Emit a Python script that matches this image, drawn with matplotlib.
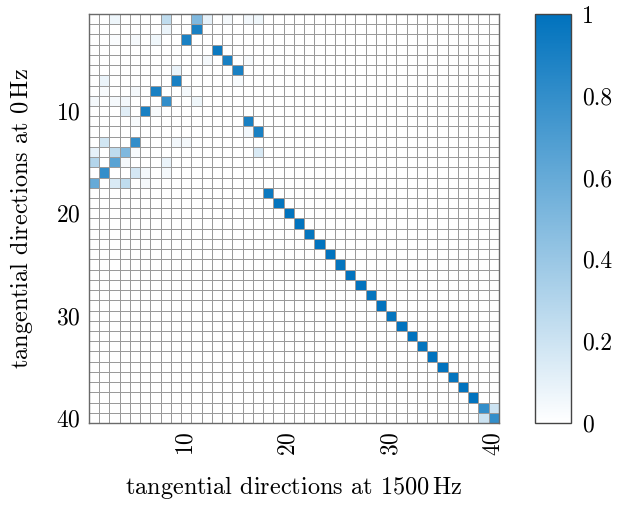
import numpy as np
import matplotlib
matplotlib.use('Agg')
import matplotlib.pyplot as plt
from matplotlib.colors import LinearSegmentedColormap

plt.rcParams['font.family'] = ['cmr10', 'DejaVu Serif']
plt.rcParams['mathtext.fontset'] = 'cm'
plt.rcParams['axes.formatter.use_mathtext'] = True

n_dirs = 40

# sparse entries of the correlation matrix (row, column, value), 1-based
rows = [1, 1, 1, 1, 1, 1, 1,
        2, 2,
        3, 3, 3, 3,
        4,
        5, 5, 5,
        6, 6,
        7, 7, 7,
        8, 8, 8, 8,
        9, 9, 9, 9, 9,
        10, 10, 10,
        11, 11,
        12, 12,
        13, 13, 13, 13,
        14, 14, 14, 14, 14,
        15, 15, 15, 15,
        16, 16, 16, 16,
        17, 17, 17, 17,
        18]
cols = [3, 8, 11, 12, 14, 16, 17,
        11, 8,
        10, 5, 7, 3,
        13,
        14, 12, 16,
        15, 9,
        9, 2, 15,
        7, 5, 10, 2,
        8, 1, 3, 4, 11,
        6, 4, 7,
        16, 5,
        17, 16,
        5, 2, 9, 10,
        1, 3, 4, 17, 5,
        1, 3, 8, 4,
        2, 5, 6, 8,
        1, 3, 4, 6,
        18]
vals = [0.07, 0.25, 0.50, 0.10, 0.04, 0.05, 0.06,
        0.90, 0.08,
        0.90, 0.04, 0.06, 0.02,
        0.95,
        0.90, 0.04, 0.03,
        0.90, 0.08,
        0.90, 0.08, 0.03,
        0.90, 0.04, 0.04, 0.03,
        0.80, 0.04, 0.04, 0.05, 0.06,
        0.90, 0.12, 0.03,
        0.90, 0.03,
        0.90, 0.05,
        0.80, 0.18, 0.05, 0.04,
        0.10, 0.25, 0.50, 0.15, 0.03,
        0.30, 0.65, 0.08, 0.04,
        0.80, 0.17, 0.04, 0.04,
        0.60, 0.15, 0.25, 0.04,
        0.95]

# directions 19..38 map one to one
diag_idx = [19, 20, 21, 22, 23, 24, 25, 26, 27, 28,
            29, 30, 31, 32, 33, 34, 35, 36, 37, 38]
diag_vals = [0.98, 0.99, 0.99, 0.98, 0.99, 0.99, 0.98, 0.99, 0.99, 0.98,
             0.99, 0.98, 0.99, 0.99, 0.98, 0.99, 0.99, 0.98, 0.99, 0.99]

# last two directions mix
block_rows = [39, 39, 40, 40]
block_cols = [39, 40, 39, 40]
block_vals = [0.80, 0.20, 0.20, 0.80]

M = np.zeros((n_dirs, n_dirs))
for r, c, v in zip(rows, cols, vals):
    M[r - 1, c - 1] = v
for i, v in zip(diag_idx, diag_vals):
    M[i - 1, i - 1] = v
for r, c, v in zip(block_rows, block_cols, block_vals):
    M[r - 1, c - 1] = v

cmap = LinearSegmentedColormap.from_list('wb', ['#ffffff', '#0072bd'])

fig = plt.figure(figsize=(6.17, 5.05), dpi=100)
ax = fig.add_axes([0.1442, 0.1624, 0.6645, 0.8099])
cax = fig.add_axes([0.867, 0.1624, 0.058, 0.8099])

edges = np.arange(0.5, n_dirs + 1.0, 1.0)
mesh = ax.pcolormesh(edges, edges, M, cmap=cmap, vmin=0, vmax=1,
                     edgecolor='#9a9a9a', linewidth=0.6)
ax.set_xlim(0.5, n_dirs + 0.5)
ax.set_ylim(n_dirs + 0.5, 0.5)
ax.set_xticks([10, 20, 30, 40])
ax.set_yticks([10, 20, 30, 40])
ax.tick_params(axis='x', labelrotation=90, length=0, labelsize=17, pad=6)
ax.tick_params(axis='y', length=0, labelsize=17, pad=6)
for s in ax.spines.values():
    s.set_color('#6a6a6a')
    s.set_linewidth(1.0)
ax.set_xlabel(r'tangential directions at 1500$\,$Hz', fontsize=17.5, labelpad=13)
ax.set_ylabel(r'tangential directions at 0$\,$Hz', fontsize=17.5, labelpad=15)

cb = fig.colorbar(mesh, cax=cax, ticks=[0, 0.2, 0.4, 0.6, 0.8, 1])
cb.ax.set_yticklabels(['0', '0.2', '0.4', '0.6', '0.8', '1'])
cb.ax.tick_params(length=0, labelsize=17, pad=8)
cb.outline.set_edgecolor('#444444')
cb.outline.set_linewidth(1.0)

fig.savefig('out.png', dpi=100)
